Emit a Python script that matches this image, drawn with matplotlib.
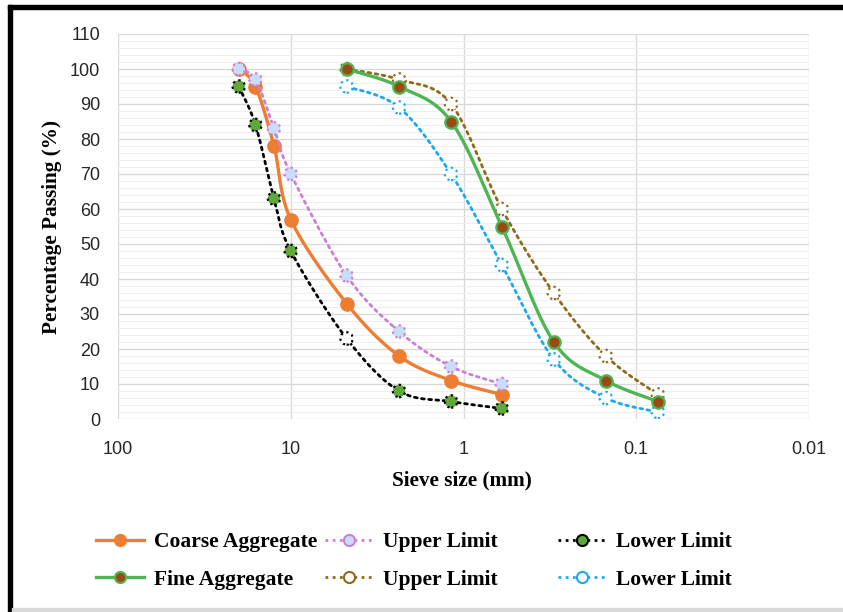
import numpy as np
import matplotlib
matplotlib.use("Agg")
import matplotlib.pyplot as plt
from matplotlib.lines import Line2D
from matplotlib.patches import Rectangle
from matplotlib import font_manager

# sieve sizes (mm)
coarse_sieve = [20, 16, 12.5, 10, 4.75, 2.36, 1.18, 0.6]
fine_sieve = [4.75, 2.36, 1.18, 0.6, 0.3, 0.15, 0.075]

# percentage passing
coarse_agg = [100, 95, 78, 57, 33, 18, 11, 7]
coarse_upper = [100, 97, 83, 70, 41, 25, 15, 10]
coarse_lower = [95, 84, 63, 48, 23, 8, 5, 3]
fine_agg = [100, 95, 85, 55, 22, 11, 5]
fine_upper = [100, 97, 90, 60, 36, 18, 7]
fine_lower = [95, 89, 70, 44, 17, 6, 2]

x_ticks = [100, 10, 1, 0.1, 0.01]
x_tick_labels = ["100", "10", "1", "0.1", "0.01"]
y_ticks = list(range(0, 111, 10))

names = [f.name for f in font_manager.fontManager.ttflist]
tick_font = "Liberation Sans Narrow" if "Liberation Sans Narrow" in names else "Liberation Sans"
serif = "Liberation Serif"


def smooth(xs, ys, n=25):
    # excel-like smoothed line: bezier through points, done in pixel-ish space
    sx, sy = 172.75, 3.5
    u = np.log10(np.array(xs, float)) * -sx
    v = np.array(ys, float) * sy
    P = np.column_stack([u, v])
    P = np.vstack([P[0], P, P[-1]])
    out = []
    for i in range(1, len(P) - 2):
        p0, p1, p2, p3 = P[i - 1], P[i], P[i + 1], P[i + 2]
        c1 = p1 + (p2 - p0) / 6
        c2 = p2 - (p3 - p1) / 6
        t = np.linspace(0, 1, n)[:, None]
        seg = ((1 - t) ** 3) * p1 + 3 * ((1 - t) ** 2) * t * c1 + 3 * (1 - t) * t ** 2 * c2 + t ** 3 * p2
        out.append(seg if i == 1 else seg[1:])
    out = np.vstack(out)
    return 10 ** (out[:, 0] / -sx), out[:, 1] / sy


fig = plt.figure(figsize=(8.43, 6.12), dpi=100)
ax = fig.add_axes([118 / 843, 1 - 419 / 612, (809 - 118) / 843, (419 - 34) / 612])

dot = (0, (1, 1.6))
lower_faces = ["#5FA83A"] * len(coarse_lower)
lower_faces[4] = "#FFFFFF"
series = {
    # x, y, line color, line style, marker face, marker edge, edge style
    "c": (coarse_sieve, coarse_agg, "#ED7D31", "-", "#ED7D31", "#ED7D31", "-"),
    "cu": (coarse_sieve, coarse_upper, "#CC7FD6", dot, "#C9DCF8", "#CC7FD6", ":"),
    "cl": (coarse_sieve, coarse_lower, "#000000", dot, lower_faces, "#000000", ":"),
    "f": (fine_sieve, fine_agg, "#4DB553", "-", "#9A4A12", "#4DB553", "-"),
    "fu": (fine_sieve, fine_upper, "#8E6A1A", dot, "#FFFFFF", "#8E6A1A", ":"),
    "fl": (fine_sieve, fine_lower, "#1BA9EE", dot, "#FFFFFF", "#1BA9EE", ":"),
}
draw_order = ["c", "cu", "cl", "fl", "fu", "f"]

for k, key in enumerate(draw_order):
    xs, ys, lc, ls, mf, me, es = series[key]
    sxs, sys_ = smooth(xs, ys)
    lw = 2.4 if ls == "-" else 2.0
    ax.plot(sxs, sys_, color=lc, lw=lw, linestyle=ls, solid_capstyle="round",
            dash_capstyle="round", zorder=3 + k)
    ax.scatter(xs, ys, s=80, c=mf, edgecolors=me, linewidths=1.6,
               linestyles=es, zorder=3.5 + k)

ax.set_xscale("log")
ax.set_xlim(100, 0.01)
ax.set_ylim(0, 110)
ax.set_xticks(x_ticks)
ax.set_xticklabels(x_tick_labels)
ax.xaxis.set_minor_locator(matplotlib.ticker.NullLocator())
ax.set_yticks(y_ticks)
ax.set_yticks(np.arange(0, 111, 2), minor=True)
ax.grid(True, which="major", color="#D9D9D9", lw=1.0)
ax.grid(True, which="minor", axis="y", color="#EEEEEE", lw=0.8)
ax.set_axisbelow(True)
for s in ax.spines.values():
    s.set_visible(False)
ax.tick_params(which="both", length=0, labelsize=13)
ax.tick_params(axis="x", pad=16)
ax.tick_params(axis="y", pad=13)
for lab in ax.get_xticklabels() + ax.get_yticklabels():
    lab.set_fontfamily(tick_font)
    lab.set_color("#262626")

ax.set_xlabel("Sieve size (mm)", fontsize=15.3, fontweight="bold", family=serif)
ax.set_ylabel("Percentage Passing (%)", fontsize=15.3, fontweight="bold", family=serif)
ax.xaxis.set_label_coords((462 - 118) / 691, (419 - 480) / 385)
ax.yaxis.set_label_coords((52 - 118) / 691, 0.5)
ax.xaxis.label.set_va("center")
ax.yaxis.label.set_va("center")

labels = {"c": "Coarse Aggregate", "cu": "Upper Limit", "cl": "Lower Limit",
          "f": "Fine Aggregate", "fu": "Upper Limit", "fl": "Lower Limit"}
handles = {}
for key, (xs, ys, lc, ls, mf, me, es) in series.items():
    face = mf if isinstance(mf, str) else mf[0]
    handles[key] = Line2D([], [], color=lc, lw=2.4 if ls == "-" else 2.0, linestyle=ls,
                          marker="o", markersize=8, markerfacecolor=face,
                          markeredgecolor=me, markeredgewidth=1.5)

columns = [("c", "f"), ("cu", "fu"), ("cl", "fl")]
col_x = [96, 325, 558]
for c, keys in enumerate(columns):
    fig.legend([handles[k] for k in keys], [labels[k] for k in keys],
               loc="upper left", bbox_to_anchor=(col_x[c] / 843, 1 - 532 / 612),
               frameon=False, borderpad=0, borderaxespad=0, handlelength=2.25,
               handletextpad=0.45, labelspacing=0.82,
               prop={"family": serif, "weight": "bold", "size": 15.5})

# frame bits around the figure
fig.patches.append(Rectangle((8 / 843, 0), 3.5 / 843, 1 - 5 / 612, transform=fig.transFigure,
                             color="black", zorder=10))
fig.patches.append(Rectangle((8 / 843, 1 - 8.5 / 612), 1, 3.5 / 612, transform=fig.transFigure,
                             color="black", zorder=10))
fig.patches.append(Rectangle((11.5 / 843, 0), 1, 4 / 612, transform=fig.transFigure,
                             color="#D9D9D9", zorder=10))

fig.savefig("out.png", dpi=100)
